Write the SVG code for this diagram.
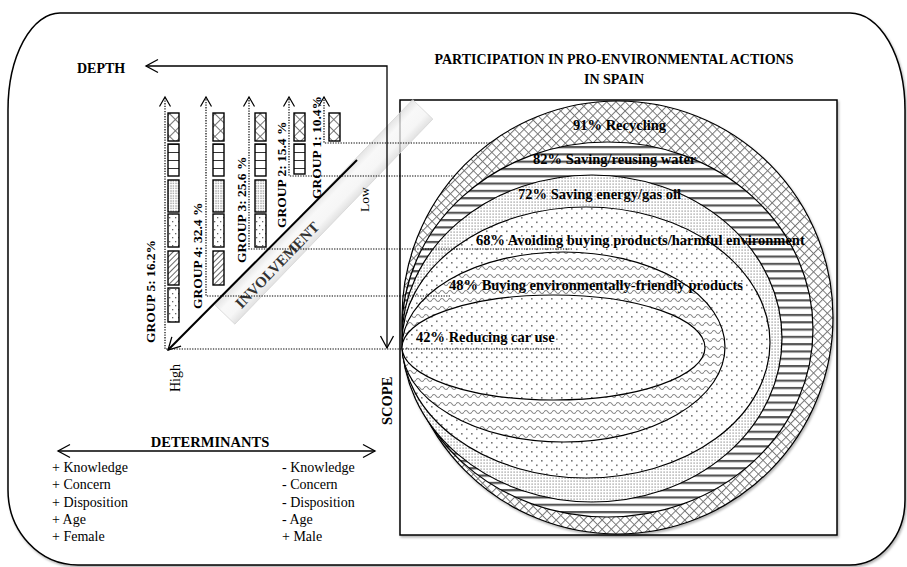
<svg xmlns="http://www.w3.org/2000/svg" width="907" height="567" viewBox="0 0 907 567">
<style>
text{font-family:"Liberation Serif","Times New Roman",serif;fill:#000}
.b{font-weight:bold}
.t14{font-size:14px}
.lbl{font-size:14.5px;font-weight:bold}
.grp{font-size:13.5px;font-weight:bold}
.dot{fill:none;stroke:#000;stroke-width:1.2;stroke-dasharray:1.3 1.3}
.ln{fill:none;stroke:#000;stroke-width:1.3}
.bx{stroke:#000;stroke-width:1.4}
.ell{stroke:#000;stroke-width:1.2}
</style>
<defs>
<filter id="sh" x="-10%" y="-10%" width="120%" height="120%">
<feDropShadow dx="1.2" dy="1.8" stdDeviation="1.2" flood-color="#000" flood-opacity="0.3"/>
</filter>
<pattern id="pCross" width="6.5" height="6.5" patternUnits="userSpaceOnUse" patternTransform="rotate(45)">
<rect width="6.5" height="6.5" fill="#fff"/>
<path d="M0,0.5 H6.5 M0.5,0 V6.5" stroke="#777" stroke-width="1"/>
</pattern>
<pattern id="pStripe" width="8" height="7.3" patternUnits="userSpaceOnUse">
<rect width="8" height="7.3" fill="#fff"/>
<rect y="0" width="8" height="2.2" fill="#555"/>
</pattern>
<pattern id="pDense" width="3" height="3" patternUnits="userSpaceOnUse">
<rect width="3" height="3" fill="#fff"/>
<rect x="0.5" y="0.5" width="1.2" height="1.2" fill="#888"/>
</pattern>
<pattern id="pSparse" width="10" height="9" patternUnits="userSpaceOnUse">
<rect width="10" height="9" fill="#fff"/>
<rect x="1" y="1" width="1.6" height="1.6" fill="#777"/>
<rect x="6" y="5.5" width="1.6" height="1.6" fill="#777"/>
</pattern>
<pattern id="pWave" width="8" height="8" patternUnits="userSpaceOnUse">
<rect width="8" height="8" fill="#fff"/>
<path d="M0,4 C1.3,2 2.7,2 4,4 S6.7,6 8,4" fill="none" stroke="#888" stroke-width="1.1"/>
</pattern>
<pattern id="bX" width="8" height="8" patternUnits="userSpaceOnUse" patternTransform="rotate(45)">
<rect width="8" height="8" fill="#fff"/>
<path d="M0,0.5 H8 M0.5,0 V8" stroke="#666" stroke-width="0.9"/>
</pattern>
<pattern id="bH" width="11" height="8" patternUnits="userSpaceOnUse">
<rect width="11" height="8" fill="#fff"/>
<path d="M0,0.5 H11" stroke="#333" stroke-width="1"/>
</pattern>
<pattern id="bD" width="2.5" height="2.5" patternUnits="userSpaceOnUse">
<rect width="2.5" height="2.5" fill="#fff"/>
<rect x="0.4" y="0.4" width="1.1" height="1.1" fill="#666"/>
</pattern>
<pattern id="bS" width="6" height="8" patternUnits="userSpaceOnUse">
<rect width="6" height="8" fill="#fff"/>
<rect x="1" y="1" width="1.3" height="1.3" fill="#666"/>
<rect x="4" y="5" width="1.3" height="1.3" fill="#666"/>
</pattern>
<pattern id="bG" width="4" height="4" patternUnits="userSpaceOnUse" patternTransform="rotate(45)">
<rect width="4" height="4" fill="#fff"/>
<path d="M0.5,0 V4" stroke="#555" stroke-width="0.9"/>
</pattern>
<linearGradient id="band" x1="0" y1="0" x2="0" y2="1">
<stop offset="0" stop-color="#dcdcdc"/>
<stop offset="0.3" stop-color="#f6f6f6"/>
<stop offset="0.7" stop-color="#f3f3f3"/>
<stop offset="1" stop-color="#d8d8d8"/>
</linearGradient>
<marker id="ah" markerWidth="16" markerHeight="16" refX="13" refY="8" orient="auto-start-reverse" markerUnits="userSpaceOnUse">
<path d="M1,1.5 L13,8 L1,14.5" fill="none" stroke="#000" stroke-width="1.3"/>
</marker>
<marker id="ahs" markerWidth="12" markerHeight="14" refX="10" refY="7" orient="auto" markerUnits="userSpaceOnUse">
<path d="M0.5,1.5 L10,7 L0.5,12.5" fill="none" stroke="#000" stroke-width="1.2"/>
</marker>
</defs>

<rect width="907" height="567" fill="#fff"/>

<g id="frame">
<path d="M60,13 H850 A55,97 0 0 1 905,110 V500 A55,65 0 0 1 850,565 H78 A70,75 0 0 1 8,490 V110 A52,97 0 0 1 60,13 Z" fill="#fff" stroke="#000" stroke-width="1.5" filter="url(#sh)"/>
</g>

<g id="title">
<text class="b t14" x="614" y="64" text-anchor="middle">PARTICIPATION IN PRO-ENVIRONMENTAL ACTIONS</text>
<text class="b t14" x="614" y="84" text-anchor="middle">IN SPAIN</text>
</g>

<g id="scope-box">
<rect x="400" y="100" width="437" height="435" fill="#fff" stroke="#000" stroke-width="1.5" filter="url(#sh)"/>
<g filter="url(#sh)">
<ellipse class="ell" cx="617.5" cy="317.5" rx="215.5" ry="216.5" fill="url(#pCross)"/>
<ellipse class="ell" cx="607.5" cy="329.5" rx="205.5" ry="187.5" fill="url(#pStripe)"/>
<ellipse class="ell" cx="592" cy="338.5" rx="190" ry="163.5" fill="url(#pDense)"/>
<ellipse class="ell" cx="586" cy="342.5" rx="184" ry="135.5" fill="url(#pSparse)"/>
<ellipse class="ell" cx="563.5" cy="347" rx="161.5" ry="95" fill="url(#pWave)"/>
<ellipse class="ell" cx="553.5" cy="347.5" rx="151.5" ry="52.5" fill="url(#pSparse)"/>
</g>
</g>

<g id="involvement-band">
<g transform="translate(329,206.5) rotate(-46)">
<rect x="-150" y="-14" width="285" height="28" fill="url(#band)" fill-opacity="0.75" stroke="#d6d6d6" stroke-width="0.8"/>
<text x="-78" y="8.5" text-anchor="middle" font-size="15" font-weight="bold" style="fill:#333">INVOLVEMENT</text>
</g>
</g>

<g id="group1">
<rect class="bx" x="329" y="113" width="11" height="28" fill="url(#bX)"/>
<text class="grp" transform="translate(321,199) rotate(-90)">GROUP 1: 10.4%</text>
</g>
<g id="group2">
<rect class="bx" x="294" y="113" width="11" height="28" fill="url(#bX)"/>
<rect class="bx" x="294" y="144" width="11" height="30" fill="url(#bH)"/>
<text class="grp" transform="translate(286,228) rotate(-90)">GROUP 2: 15.4 %</text>
</g>
<g id="group3">
<rect class="bx" x="255" y="113" width="11" height="28" fill="url(#bX)"/>
<rect class="bx" x="255" y="144" width="11" height="32" fill="url(#bH)"/>
<rect class="bx" x="255" y="180" width="11" height="32" fill="url(#bD)"/>
<rect class="bx" x="255" y="214" width="11" height="33" fill="url(#bS)"/>
<text class="grp" transform="translate(246,263) rotate(-90)">GROUP 3: 25.6 %</text>
</g>
<g id="group4">
<rect class="bx" x="213" y="113" width="11" height="28" fill="url(#bX)"/>
<rect class="bx" x="213" y="144" width="11" height="32" fill="url(#bH)"/>
<rect class="bx" x="213" y="180" width="11" height="32" fill="url(#bD)"/>
<rect class="bx" x="213" y="214" width="11" height="33" fill="url(#bS)"/>
<rect class="bx" x="213" y="251" width="11" height="34" fill="url(#bG)"/>
<text class="grp" transform="translate(202,309) rotate(-90)">GROUP 4: 32.4 %</text>
</g>
<g id="group5">
<rect class="bx" x="168" y="113" width="11" height="28" fill="url(#bX)"/>
<rect class="bx" x="168" y="144" width="11" height="32" fill="url(#bH)"/>
<rect class="bx" x="168" y="180" width="11" height="32" fill="url(#bD)"/>
<rect class="bx" x="168" y="214" width="11" height="33" fill="url(#bS)"/>
<rect class="bx" x="168" y="251" width="11" height="34" fill="url(#bG)"/>
<rect class="bx" x="168" y="288" width="11" height="34" fill="url(#bS)"/>
<text class="grp" transform="translate(155,343) rotate(-90)">GROUP 5: 16.2%</text>
</g>

<g id="connectors">
<path class="dot" d="M490,143 H324 V97" marker-end="url(#ahs)"/>
<path class="dot" d="M455,176 H289 V97" marker-end="url(#ahs)"/>
<path class="dot" d="M572,249 H249 V97" marker-end="url(#ahs)"/>
<path class="dot" d="M450,296 H206 V97" marker-end="url(#ahs)"/>
<path class="dot" d="M560,349 H165 V97" marker-end="url(#ahs)"/>
<path class="ln" d="M146,66 H387 V348" marker-start="url(#ah)" marker-end="url(#ah)"/>
<line x1="357" y1="160" x2="168" y2="350" stroke="#000" stroke-width="2" marker-end="url(#ah)"/>
<line class="ln" x1="58" y1="451" x2="375" y2="451" marker-start="url(#ah)" marker-end="url(#ah)"/>
</g>

<g id="circle-labels">
<text class="lbl" x="573" y="130">91% Recycling</text>
<text class="lbl" x="533" y="164">82% Saving/reusing water</text>
<text class="lbl" x="518" y="199">72% Saving energy/gas oil</text>
<text class="lbl" x="476" y="245">68% Avoiding buying products/harmful environment</text>
<text class="lbl" x="449" y="290">48% Buying environmentally-friendly products</text>
<text class="lbl" x="416" y="342">42% Reducing car use</text>
</g>

<g id="axis-labels">
<text class="b t14" x="77" y="73">DEPTH</text>
<text font-size="13.5" transform="translate(369,212) rotate(-90)">Low</text>
<text font-size="14" transform="translate(180,392) rotate(-90)">High</text>
<text class="b" font-size="14.5" transform="translate(392,425) rotate(-90)">SCOPE</text>
</g>

<g id="determinants">
<text class="b" font-size="14.5" x="210" y="447" text-anchor="middle">DETERMINANTS</text>
<g class="t14">
<text x="52" y="472">+ Knowledge</text>
<text x="52" y="489.3">+ Concern</text>
<text x="52" y="506.6">+ Disposition</text>
<text x="52" y="523.9">+ Age</text>
<text x="52" y="541.2">+ Female</text>
<text x="282" y="472">- Knowledge</text>
<text x="282" y="489.3">- Concern</text>
<text x="282" y="506.6">- Disposition</text>
<text x="282" y="523.9">- Age</text>
<text x="282" y="541.2">+ Male</text>
</g>
</g>
</svg>
